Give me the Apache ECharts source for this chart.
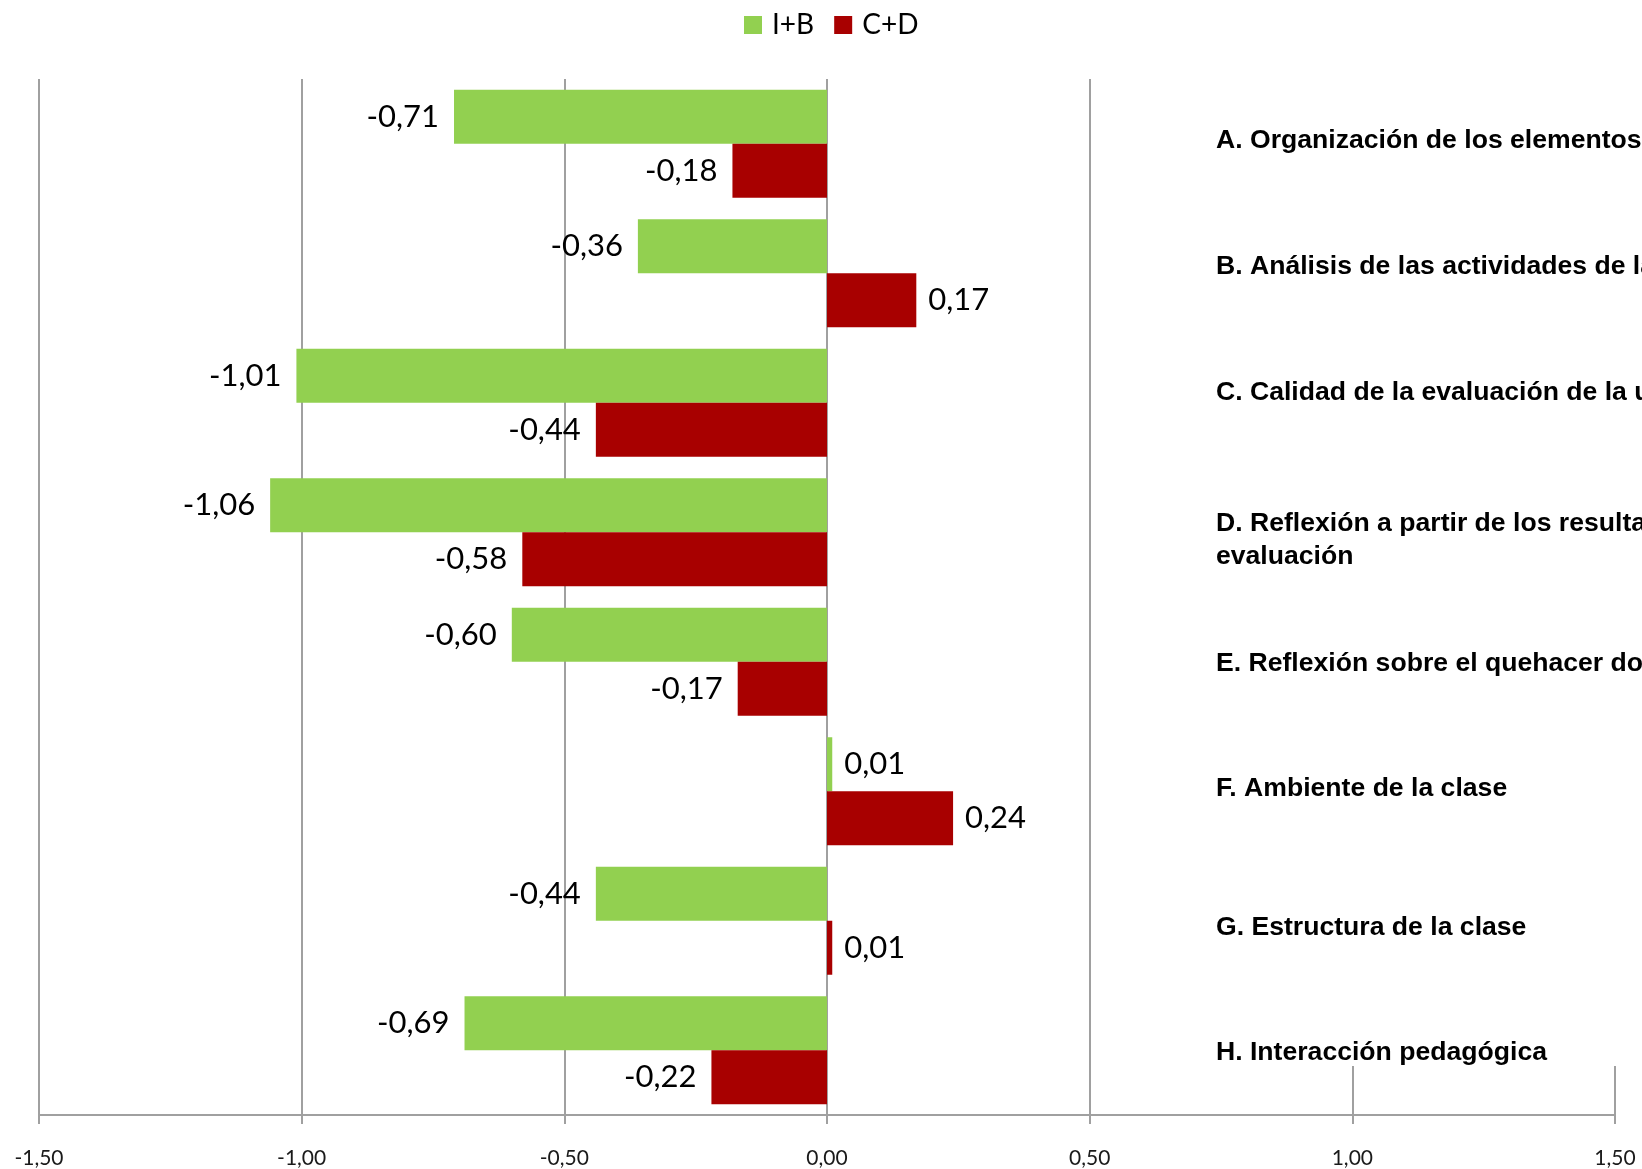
<!DOCTYPE html>
<html>
<head>
<meta charset="utf-8">
<script src="https://cdn.jsdelivr.net/npm/echarts@6/dist/echarts.min.js"></script>
<style>
html,body{margin:0;padding:0;background:#fff;}
#c{width:1642px;height:1169px;}
</style>
</head>
<body>
<div id="c"></div>
<script>
// ---- data ----
var categories = ['A', 'B', 'C', 'D', 'E', 'F', 'G', 'H'];
var categoryNames = [
  'A. Organización de los elementos de la unidad',
  'B. Análisis de las actividades de las clases',
  'C. Calidad de la evaluación de la unidad',
  'D. Reflexión a partir de los resultados de la\nevaluación',
  'E. Reflexión sobre el quehacer docente',
  'F. Ambiente de la clase',
  'G. Estructura de la clase',
  'H. Interacción pedagógica'
];
var seriesNames = ['I+B', 'C+D'];
var ibValues = [-0.71, -0.36, -1.01, -1.06, -0.60, 0.01, -0.44, -0.69];
var cdValues = [-0.18, 0.17, -0.44, -0.58, -0.17, 0.24, 0.01, -0.22];
var xTicks = [-1.5, -1.0, -0.5, 0.0, 0.5, 1.0, 1.5];

// ---- layout (not data) ----
var nameLabelY = [141, 267, 393, 540, 664, 789, 928, 1053];

function fmt(v) { return v.toFixed(2).replace('.', ','); }
function toItems(arr) {
  return arr.map(function (v) {
    return {
      value: v,
      label: { position: v < 0 ? 'left' : 'right', distance: v < 0 ? 15 : 12 }
    };
  });
}

var chart = echarts.init(document.getElementById('c'), null, { renderer: 'canvas' });

var graphics = [{
  type: 'rect', z: 50,
  shape: { x: 1150, y: 60, width: 500, height: 1006 },
  style: { fill: '#ffffff' }
}];
categoryNames.forEach(function (n, i) {
  graphics.push({
    type: 'text', z: 51,
    x: 1216, y: nameLabelY[i],
    style: {
      text: n, fill: '#000',
      font: 'bold 26.6px "Liberation Sans", Arial, sans-serif',
      align: 'left', verticalAlign: 'middle', lineHeight: 33
    }
  });
});

chart.setOption({
  animation: false,
  backgroundColor: '#ffffff',
  legend: {
    data: seriesNames,
    left: 739, top: 6,
    itemWidth: 18, itemHeight: 18, itemGap: 20,
    icon: 'rect',
    textStyle: { fontFamily: 'Lato', fontSize: 28, color: '#000', lineHeight: 28, padding: [0, 0, 0, 5] }
  },
  grid: { left: 39, right: 27, top: 79, bottom: 51, containLabel: false },
  xAxis: {
    type: 'value', min: xTicks[0], max: xTicks[xTicks.length - 1], interval: 0.5,
    axisLine: { show: true, onZero: false, lineStyle: { color: '#a0a0a0', width: 2 } },
    axisTick: { show: true, length: 9, lineStyle: { color: '#a0a0a0', width: 2 } },
    axisLabel: { formatter: fmt, fontFamily: 'Lato', fontSize: 21, color: '#1a1a1a', margin: 33 },
    splitLine: { show: true, lineStyle: { color: '#a0a0a0', width: 2 } }
  },
  yAxis: {
    type: 'category', data: categories, inverse: true,
    axisLine: { show: false }, axisTick: { show: false }, axisLabel: { show: false },
    splitLine: { show: false }
  },
  series: [
    {
      name: seriesNames[0], type: 'bar', data: toItems(ibValues),
      barWidth: 54, barGap: '0%',
      itemStyle: { color: '#92D050' },
      label: { show: true, formatter: function (p) { return fmt(p.value); },
        fontFamily: 'Lato', fontSize: 31, color: '#000' }
    },
    {
      name: seriesNames[1], type: 'bar', data: toItems(cdValues),
      barWidth: 54, barGap: '0%',
      itemStyle: { color: '#A80000' },
      label: { show: true, formatter: function (p) { return fmt(p.value); },
        fontFamily: 'Lato', fontSize: 31, color: '#000' }
    }
  ],
  graphic: graphics
});
</script>
</body>
</html>
